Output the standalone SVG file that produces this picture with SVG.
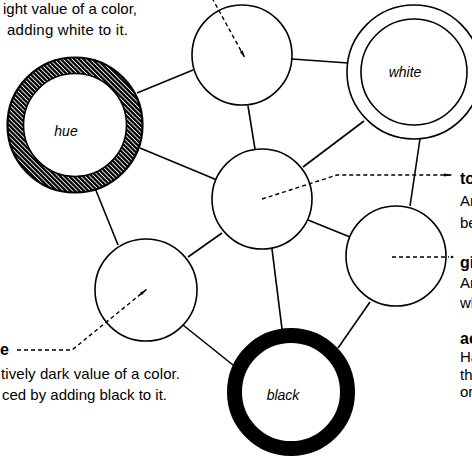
<svg xmlns="http://www.w3.org/2000/svg" width="472" height="460" viewBox="0 0 472 460">
<style>
.c{fill:#fff;stroke:#000;stroke-width:1.6}
.ln{stroke:#000;stroke-width:1.6;fill:none}
.ld{stroke:#000;stroke-width:1.4;fill:none;stroke-dasharray:4 3}
.t{font-family:"Liberation Sans",Arial,sans-serif;font-size:15px;fill:#000}
.b{font-weight:bold;font-size:16px}
.lab{font-family:"Liberation Sans",Arial,sans-serif;font-size:14px;font-style:italic;fill:#000;text-anchor:middle}
</style>
<defs>
<pattern id="hatch" patternUnits="userSpaceOnUse" width="3.2" height="3.2" patternTransform="rotate(-45)">
<rect width="3.2" height="3.2" fill="#fff"/>
<rect x="0" y="0" width="2.3" height="3.2" fill="#000"/>
</pattern>
<marker id="dart" viewBox="0 0 10 6" refX="10" refY="3" markerWidth="8" markerHeight="5" markerUnits="userSpaceOnUse" orient="auto">
<path d="M0,1 L10,3 L0,5 Z" fill="#000"/>
</marker>
</defs>

<g id="connectors">
<line class="ln" x1="137" y1="93" x2="193" y2="70"/>
<line class="ln" x1="292" y1="59" x2="348" y2="63"/>
<line class="ln" x1="248" y1="106" x2="255" y2="149"/>
<line class="ln" x1="140" y1="148" x2="217" y2="180"/>
<line class="ln" x1="95" y1="188" x2="118" y2="245"/>
<line class="ln" x1="188" y1="257" x2="222" y2="233"/>
<line class="ln" x1="303" y1="167" x2="364" y2="121"/>
<line class="ln" x1="420" y1="139" x2="410" y2="206"/>
<line class="ln" x1="308" y1="220" x2="350" y2="237"/>
<line class="ln" x1="272" y1="249" x2="282" y2="329"/>
<line class="ln" x1="370" y1="302" x2="338" y2="348"/>
<line class="ln" x1="183" y1="325" x2="233" y2="365"/>
</g>

<g id="tint"><circle class="c" cx="242" cy="55" r="50"/></g>

<g id="white">
<circle class="c" cx="414" cy="72" r="67" stroke-width="2"/>
<circle class="c" cx="414" cy="72" r="53" stroke-width="2"/>
<text class="lab" x="405" y="77">white</text>
</g>

<g id="hue">
<circle cx="75" cy="125" r="59.5" fill="none" stroke="url(#hatch)" stroke-width="16"/>
<circle cx="75" cy="125" r="67.5" fill="none" stroke="#000" stroke-width="2.2"/>
<circle class="c" cx="75" cy="125" r="51.5" stroke-width="2"/>
<text class="lab" x="66" y="136">hue</text>
</g>

<g id="tone"><circle class="c" cx="262" cy="199" r="50"/></g>
<g id="shade"><circle class="c" cx="146" cy="290" r="51"/></g>
<g id="gray"><circle class="c" cx="396" cy="256" r="50"/></g>

<g id="black">
<circle cx="291" cy="392" r="56.5" fill="#fff" stroke="#000" stroke-width="15"/>
<text class="lab" x="283" y="400">black</text>
</g>

<g id="leaders">
<line class="ld" x1="212" y1="-2" x2="245" y2="58" marker-end="url(#dart)"/>
<polyline class="ld" points="17,350 72,350 147,289" marker-end="url(#dart)"/>
<polyline class="ld" points="262,199 337,175 452,175" marker-end="url(#dart)"/>
<line class="ld" x1="392" y1="257" x2="449" y2="257"/>
<circle cx="452" cy="257" r="1.3" fill="#000"/>
</g>

<g id="texts">
<text class="t" x="3" y="14" textLength="134">ight value of a color,</text>
<text class="t" x="7" y="35" textLength="121">adding white to it.</text>
<text class="t b" x="0" y="355">e</text>
<text class="t" x="1" y="379" textLength="179">tively dark value of a color.</text>
<text class="t" x="2" y="400" textLength="165">ced by adding black to it.</text>
<text class="t b" x="460" y="184">to</text>
<text class="t" x="460" y="206">An</text>
<text class="t" x="460" y="228">be</text>
<text class="t b" x="460" y="268">gi</text>
<text class="t" x="460" y="288">An</text>
<text class="t" x="460" y="308">wh</text>
<text class="t b" x="460" y="344">ac</text>
<text class="t" x="460" y="362">Ha</text>
<text class="t" x="460" y="380">th</text>
<text class="t" x="460" y="397">or</text>
</g>
</svg>
